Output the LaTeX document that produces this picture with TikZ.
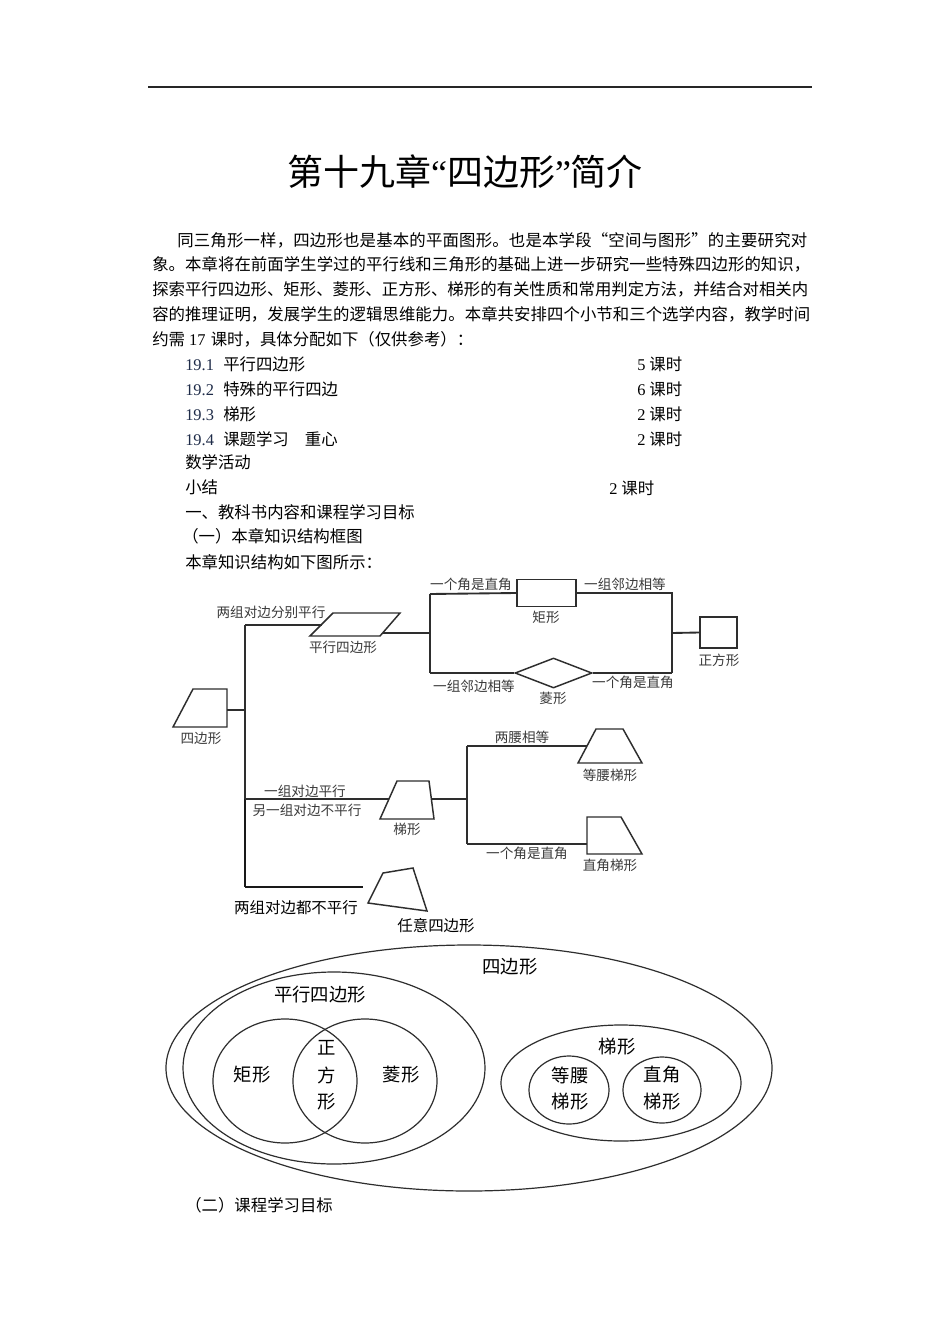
\documentclass[tikz,border=0pt]{standalone}
\usepackage{fontspec}
\setmainfont{Liberation Serif}
\newfontfamily\cjk{Noto Sans CJK SC}
\newfontfamily\tnr{Liberation Serif}
\usetikzlibrary{shapes.geometric}
\definecolor{lg}{HTML}{2E2E2E}
\definecolor{tg}{HTML}{3A3A3A}
\definecolor{numc}{HTML}{1E2B48}
\makeatletter
\newcommand\spreadline[2]{\hbox to #1{\@tfor\jx@c:=#2\do{\jx@c\hfil}\unskip}}
\makeatother
\tikzset{
 body/.style={font=\cjk\fontsize{12.3}{14}\selectfont, inner sep=0pt, anchor=west},
 tl/.style={font=\cjk\fontsize{10.2}{12}\selectfont, text=tg, inner sep=0pt},
 tb/.style={font=\cjk\fontsize{11.6}{13}\selectfont, text=black, inner sep=0pt},
 conn/.style={draw=lg, line width=1.4pt},
 shp/.style={draw=lg, line width=1.1pt},
 evn/.style={ellipse, draw=lg, line width=0.9pt, inner sep=0pt},
 etx/.style={font=\cjk\fontsize{13.8}{16}\selectfont, inner sep=0pt},
}
\begin{document}
\begin{tikzpicture}[x=0.75pt,y=-0.75pt]
\fill[white] (0,0) rectangle (945,1337);
\useasboundingbox (0,0) rectangle (945,1337);
% header rule
\coordinate (h1) at (148,87);
\coordinate (h2) at (812,87);
\draw[line width=0.8pt, black!85] (h1) -- (h2);
% title
\node[inner sep=0pt, font=\cjk\fontsize{27}{30}\selectfont] (title) at (465,172) {第十九章{\tnr “}四边形{\tnr ”}简介};
% body
\node[body] (l1) at (177,240) {\spreadline{472.5pt}{同三角形一样，四边形也是基本的平面图形。也是本学段“空间与图形”的主要研究对}};
\node[body] (l2) at (152,264) {\spreadline{493.5pt}{象。本章将在前面学生学过的平行线和三角形的基础上进一步研究一些特殊四边形的知识，}};
\node[body] (l3) at (152,289) {\spreadline{484.5pt}{探索平行四边形、矩形、菱形、正方形、梯形的有关性质和常用判定方法，并结合对相关内}};
\node[body] (l4) at (152,314) {\spreadline{493.5pt}{容的推理证明，发展学生的逻辑思维能力。本章共安排四个小节和三个选学内容，教学时间}};
\node[body] (l5) at (152,339) {约需\hspace{3pt}{\tnr 17}\hspace{4pt}课时，具体分配如下（仅供参考）：};
% list
\node[body, text=numc] (n1) at (185,365) {\tnr 19.1};
\node[body] (t1) at (223,364) {平行四边形};
\node[body] (h1x) at (637,364) {{\tnr 5}\hspace{3pt}课时};
\node[body, text=numc] (n2) at (185,390) {\tnr 19.2};
\node[body] (t2) at (223,389) {特殊的平行四边};
\node[body] (h2x) at (637,389) {{\tnr 6}\hspace{3pt}课时};
\node[body, text=numc] (n3) at (185,415) {\tnr 19.3};
\node[body] (t3) at (223,414) {梯形};
\node[body] (h3x) at (637,414) {{\tnr 2}\hspace{3pt}课时};
\node[body, text=numc] (n4) at (185,440) {\tnr 19.4};
\node[body] (t4) at (223,439) {课题学习\hspace{12pt}重心};
\node[body] (h4x) at (637,439) {{\tnr 2}\hspace{3pt}课时};
\node[body] (t5) at (185,462) {数学活动};
\node[body] (t6) at (185,487) {小结};
\node[body] (h6x) at (609,488) {{\tnr 2}\hspace{3pt}课时};
\node[body] (s1) at (185,512) {一、教科书内容和课程学习目标};
\node[body] (s2) at (182,536) {（一）本章知识结构框图};
\node[body] (s3) at (185,562) {本章知识结构如下图所示：};
\node[body] (s4) at (185,1205) {（二）课程学习目标};

% ===== tree diagram =====
% quadrilateral (root)
\draw[shp] (193,689) -- (227,689) -- (227,727) -- (173,727) -- cycle;
\coordinate (qA) at (227,710);
\node[tl] (lq) at (201,738) {四边形};
% trunk
\coordinate (T1) at (245,625);
\coordinate (T2) at (245,710);
\coordinate (T3) at (245,799);
\coordinate (T4) at (245,887);
\draw[conn] (T1) -- (T3);
\draw[draw=black!90, line width=1.9pt] (T3) -- (T4);
\draw[conn] (qA) -- (T2);
% parallelogram
\draw[shp] (333,613) -- (400,613) -- (380,636) -- (310,636) -- cycle;
\coordinate (pL) at (322,625);
\coordinate (pR) at (383,633);
\draw[conn] (T1) -- (pL);
\node[tl] (lpa) at (271,612) {两组对边分别平行};
\node[tl] (lpb) at (343,647) {平行四边形};
\coordinate (J0) at (430,633);
\coordinate (J1a) at (430,594);
\coordinate (J1b) at (430,673);
\draw[conn] (pR) -- (J0);
\draw[conn] (J1a) -- (J1b);
% rectangle
\node[shp, rectangle, minimum width=44.25pt, minimum height=20.25pt, inner sep=0pt] (rect) at (546.5,593) {};
\coordinate (J2a) at (672,593);
\coordinate (J2m) at (672,633);
\coordinate (J2b) at (672,673);
\draw[conn] (J1a) -- (rect.west);
\draw[conn] (rect.east) -- (J2a) -- (J2b);
\node[tl] (lr1) at (471,584) {一个角是直角};
\node[tl] (lr2) at (625,584) {一组邻边相等};
\node[tl] (lr3) at (546,617) {矩形};
% rhombus
\node[shp, diamond, minimum width=57.75pt, minimum height=22.5pt, inner sep=0pt] (rhomb) at (553.5,673) {};
\draw[conn] (J1b) -- (rhomb.west);
\draw[conn] (rhomb.east) -- (J2b);
\node[tl] (lh1) at (474,686) {一组邻边相等};
\node[tl] (lh2) at (633,682) {一个角是直角};
\node[tl] (lh3) at (553,698) {菱形};
% square
\node[shp, rectangle, minimum width=27.75pt, minimum height=23.25pt, inner sep=0pt] (sq) at (718.5,632.5) {};
\draw[conn] (J2m) -- (sq.west);
\node[tl] (ls) at (719,660) {正方形};
% trapezoid
\draw[shp] (397,781) -- (429,781) -- (434,819) -- (380,819) -- cycle;
\coordinate (tL) at (389,799);
\coordinate (tR) at (431,799);
\draw[conn] (T3) -- (tL);
\node[tl] (lt1) at (305,791) {一组对边平行};
\node[tl] (lt2) at (307,810) {另一组对边不平行};
\node[tl] (lt3) at (407,829) {梯形};
\coordinate (K0) at (467,799);
\coordinate (K1) at (467,746);
\coordinate (K2) at (467,844);
\draw[conn] (tR) -- (K0);
\draw[conn] (K1) -- (K2);
% isosceles trapezoid
\draw[shp] (596,729) -- (623,729) -- (642,763) -- (578,763) -- cycle;
\coordinate (iL) at (587,746);
\draw[conn] (K1) -- (iL);
\node[tl] (li1) at (522,737) {两腰相等};
\node[tl] (li2) at (610,775) {等腰梯形};
% right trapezoid
\draw[shp] (587,817) -- (621,817) -- (642,854) -- (587,854) -- cycle;
\coordinate (rL) at (587,844);
\draw[conn] (K2) -- (rL);
\node[tl] (la1) at (527,853) {一个角是直角};
\node[tl] (la2) at (610,865) {直角梯形};
% arbitrary quadrilateral
\draw[shp] (383,873) -- (413,868) -- (427,911) -- (368,903) -- cycle;
\coordinate (B0) at (363,887);
\draw[draw=black!90, line width=1.6pt] (T4) -- (B0);
\node[tb] (lb1) at (296,908) {两组对边都不平行};
\node[tb] (lb2) at (436,926) {任意四边形};

% ===== Venn diagram =====
\node[evn, minimum width=454.5pt, minimum height=184.5pt] (eq) at (469,1068) {};
\node[evn, minimum width=226.5pt, minimum height=144pt] (ep) at (334,1068) {};
\node[evn, minimum width=108pt, minimum height=93pt] (er) at (285,1081) {};
\node[evn, minimum width=108pt, minimum height=93pt] (eh) at (365,1081) {};
\node[evn, minimum width=180pt, minimum height=87pt] (et) at (621,1083) {};
\node[evn, minimum width=60pt, minimum height=51pt] (ei) at (569,1090) {};
\node[evn, minimum width=58.5pt, minimum height=49.5pt] (ea) at (662,1090) {};
\node[etx] (v1) at (510,967) {四边形};
\node[etx] (v2) at (320,995) {平行四边形};
\node[etx] (v3) at (252,1075) {矩形};
\node[etx] (v4) at (401,1075) {菱形};
\node[etx] (v5) at (327,1048) {正};
\node[etx] (v6) at (327,1075) {方};
\node[etx] (v7) at (327,1102) {形};
\node[etx] (v8) at (617,1047) {梯形};
\node[etx] (v9) at (570,1075) {等腰};
\node[etx] (v10) at (570,1102) {梯形};
\node[etx] (v11) at (662,1075) {直角};
\node[etx] (v12) at (662,1102) {梯形};
\end{tikzpicture}
\end{document}
